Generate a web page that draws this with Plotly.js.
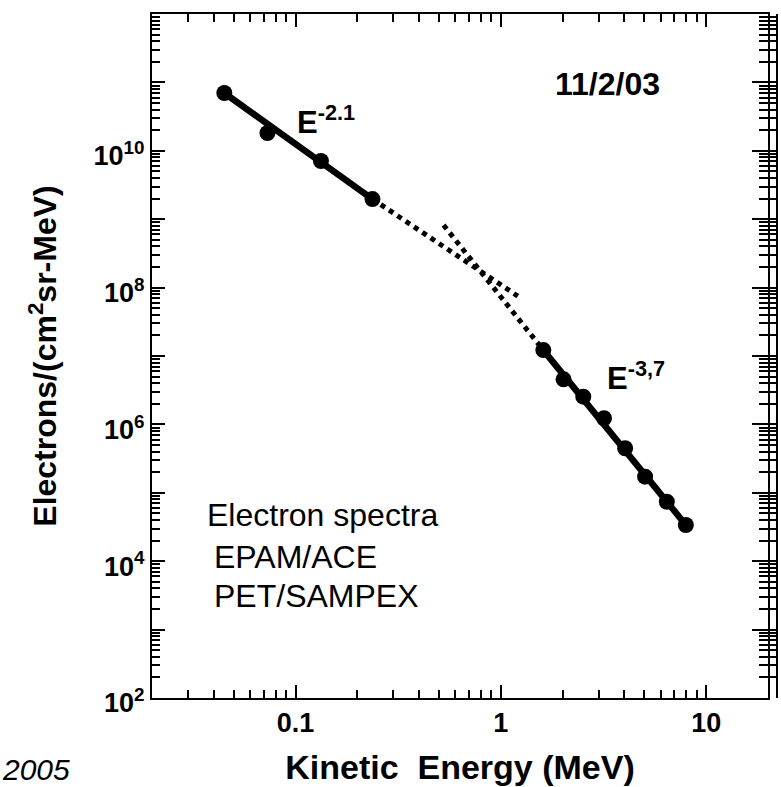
<!DOCTYPE html>
<html>
<head>
<meta charset="utf-8">
<script src="https://cdn.plot.ly/plotly-3.0.1.min.js"></script>
<style>
  html, body { margin: 0; padding: 0; background: #fff; }
  #chart { width: 781px; height: 787px; }
</style>
</head>
<body>
<div id="chart"></div>
<script>
// Electron spectra, 2 Nov 2003. Energy in MeV, flux in electrons/(cm^2 sr MeV).

// EPAM/ACE, low-energy channels
const epamEnergy = [0.045, 0.073, 0.133, 0.237];
const epamFlux   = [7.0e10, 1.82e10, 7.1e9, 1.97e9];

// PET/SAMPEX, high-energy channels
const petEnergy = [1.61, 2.02, 2.52, 3.18, 4.03, 5.04, 6.43, 7.96];
const petFlux   = [1.22e7, 4.56e6, 2.54e6, 1.23e6, 4.48e5, 1.72e5, 7.4e4, 3.38e4];

// Power-law fits: E^-2.1 (EPAM) and E^-3.7 (PET)
const fitLowEnergy  = [0.045, 0.237];
const fitLowFlux    = [7.0e10, 1.97e9];
const fitHighEnergy = [1.61, 7.96];
const fitHighFlux   = [1.22e7, 3.38e4];

// Dotted extensions of both fits across the gap between the instruments
const extLowEnergy  = [0.237, 1.21];
const extLowFlux    = [1.97e9, 7.5e7];
const extHighEnergy = [0.526, 1.61];
const extHighFlux   = [8.2e8, 1.22e7];

// Axis ticks and labels
const xTickVals = [0.1, 1, 10];
const xTickText = ['0.1', '1', '10'];
const yTickVals = [1e2, 1e4, 1e6, 1e8, 1e10];
const yTickText = ['10<sup>2</sup>', '10<sup>4</sup>', '10<sup>6</sup>',
                   '10<sup>8</sup>', '10<sup>10</sup>'];
const yOddDecades = [1e3, 1e5, 1e7, 1e9, 1e11];
const yAllDecades = [1e2, 1e3, 1e4, 1e5, 1e6, 1e7, 1e8, 1e9, 1e10, 1e11, 1e12];

// Minor log ticks (2..9 within each decade)
function minorTicks(fromExp, toExp, lo, hi) {
  const out = [];
  for (let e = fromExp; e <= toExp; e++) {
    for (let d = 2; d <= 9; d++) {
      const v = d * Math.pow(10, e);
      if (v > lo && v < hi) out.push(v);
    }
  }
  return out;
}
const xMinor = minorTicks(-2, 1, 0.0201, 19.9);
const yMinor = minorTicks(2, 11, 100, 1e12);

const FONT = 'Liberation Sans, Arial, Helvetica, sans-serif';
const INK = '#000';

// pixel -> paper helpers for free-floating labels (plot spans 152..777 x 14..698)
const PL = 152, PW = 625, PT = 14, PH = 684;
const px = v => (v - PL) / PW;
const py = v => (PT + PH - v) / PH;

const traces = [
  { x: extLowEnergy, y: extLowFlux, mode: 'lines',
    line: { color: INK, width: 5, dash: 'dot' }, hoverinfo: 'skip' },
  { x: extHighEnergy, y: extHighFlux, mode: 'lines',
    line: { color: INK, width: 5, dash: 'dot' }, hoverinfo: 'skip' },
  { x: fitLowEnergy, y: fitLowFlux, mode: 'lines',
    line: { color: INK, width: 6.5 }, hoverinfo: 'skip' },
  { x: fitHighEnergy, y: fitHighFlux, mode: 'lines',
    line: { color: INK, width: 6.5 }, hoverinfo: 'skip' },
  { x: epamEnergy, y: epamFlux, mode: 'markers', name: 'EPAM/ACE',
    marker: { color: INK, size: 16 } },
  { x: petEnergy, y: petFlux, mode: 'markers', name: 'PET/SAMPEX',
    marker: { color: INK, size: 16 } },
  // carriers for the extra frame axes
  { x: [], y: [], yaxis: 'y2', mode: 'markers', hoverinfo: 'skip' },
  { x: [], y: [], yaxis: 'y3', mode: 'markers', hoverinfo: 'skip' }
];

const axisCommon = {
  type: 'log', showgrid: false, zeroline: false,
  showline: true, linecolor: INK, linewidth: 2,
  ticks: 'inside', tickwidth: 2, tickcolor: INK,
  tickmode: 'array'
};
const yMinorTicks = len => ({ tickmode: 'array', tickvals: yMinor, ticks: 'inside',
                              ticklen: len, tickwidth: 2, tickcolor: INK, showgrid: false });

const layout = {
  width: 781, height: 787,
  margin: { l: 152, r: 4, t: 14, b: 89, pad: 0 },
  paper_bgcolor: '#fff', plot_bgcolor: '#fff',
  showlegend: false,
  font: { family: FONT, color: INK },
  xaxis: Object.assign({}, axisCommon, {
    range: [Math.log10(0.02), Math.log10(20)],
    domain: [0, 616 / 625],
    mirror: 'ticks', ticklen: 13,
    tickvals: xTickVals, ticktext: xTickText,
    tickfont: { family: FONT, size: 27, weight: 'bold', color: INK },
    minor: { tickmode: 'array', tickvals: xMinor, ticks: 'inside',
             ticklen: 8, tickwidth: 2, tickcolor: INK, showgrid: false },
    title: { text: 'Kinetic\u00a0 Energy (MeV)\u00a0\u00a0', standoff: 18,
             font: { family: FONT, size: 34, weight: 'bold', color: INK } }
  }),
  yaxis: Object.assign({}, axisCommon, {
    range: [2, 12],
    mirror: true, ticklen: 13,
    tickvals: yTickVals, ticktext: yTickText,
    ticklabelshift: 5,
    tickfont: { family: FONT, size: 27, weight: 'bold', color: INK },
    minor: yMinorTicks(8),
    title: { text: 'Electrons/(cm<sup>2</sup>sr-MeV)', standoff: 27,
             font: { family: FONT, size: 32, weight: 'bold', color: INK } }
  }),
  // long ticks at the unlabelled decades on the left frame
  yaxis3: Object.assign({}, axisCommon, {
    range: [2, 12], overlaying: 'y', anchor: 'x', side: 'left',
    showline: false, ticklen: 13, tickvals: yOddDecades, showticklabels: false
  }),
  // outer right-hand frame line with its own ticks
  yaxis2: Object.assign({}, axisCommon, {
    range: [2, 12], overlaying: 'y', anchor: 'free', position: 1, side: 'right',
    ticklen: 24, tickvals: yAllDecades, showticklabels: false,
    minor: yMinorTicks(17)
  }),
  annotations: [
    { xref: 'paper', yref: 'paper', x: px(295), y: py(120), xanchor: 'left', yanchor: 'middle',
      text: 'E<sup>-2.1</sup>', showarrow: false,
      font: { family: FONT, size: 31, weight: 'bold', color: INK } },
    { xref: 'paper', yref: 'paper', x: px(605), y: py(376), xanchor: 'left', yanchor: 'middle',
      text: 'E<sup>-3,7</sup>', showarrow: false,
      font: { family: FONT, size: 31, weight: 'bold', color: INK } },
    { xref: 'paper', yref: 'paper', x: px(607), y: py(84), xanchor: 'center', yanchor: 'middle',
      text: '11/2/03', showarrow: false,
      font: { family: FONT, size: 32, weight: 'bold', color: INK } },
    { xref: 'paper', yref: 'paper', x: px(205), y: py(515), xanchor: 'left', yanchor: 'middle',
      text: 'Electron spectra', showarrow: false,
      font: { family: FONT, size: 32, color: INK } },
    { xref: 'paper', yref: 'paper', x: px(212), y: py(557), xanchor: 'left', yanchor: 'middle',
      text: 'EPAM/ACE', showarrow: false,
      font: { family: FONT, size: 32, color: INK } },
    { xref: 'paper', yref: 'paper', x: px(212), y: py(596), xanchor: 'left', yanchor: 'middle',
      text: 'PET/SAMPEX', showarrow: false,
      font: { family: FONT, size: 32, color: INK } },
    { xref: 'paper', yref: 'paper', x: px(0), y: py(770), xanchor: 'left', yanchor: 'middle',
      text: '2005', showarrow: false,
      font: { family: FONT, size: 30, style: 'italic', color: INK } }
  ]
};

Plotly.newPlot('chart', traces, layout, { displayModeBar: false, staticPlot: true });
</script>
</body>
</html>
